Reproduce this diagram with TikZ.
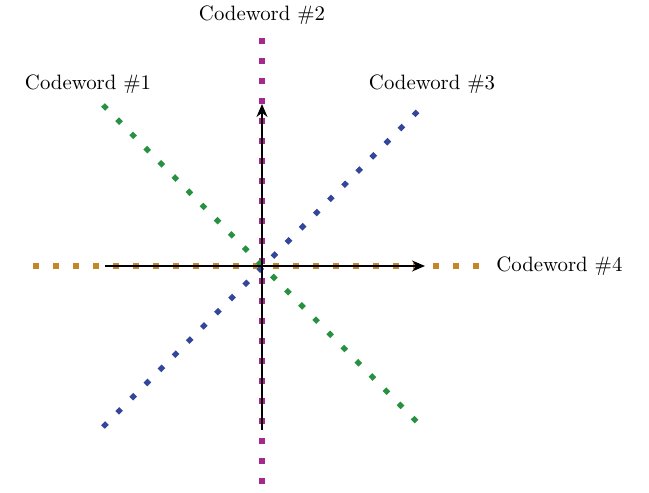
\documentclass[tikz,border=0pt]{standalone}
\usepackage{xcolor}
\usetikzlibrary{arrows.meta,positioning}

\definecolor{cwmag}{RGB}{165,40,140}
\definecolor{cwgreen}{RGB}{40,145,65}
\definecolor{cwblue}{RGB}{50,70,155}
\definecolor{cworange}{RGB}{195,135,40}

\begin{document}
\begin{tikzpicture}[
  x=0.5pt,y=-0.5pt,
  cw/.style={line width=2.6pt,dash pattern=on 2.8pt off 7.2pt},
  lbl/.style={inner sep=1pt,font=\fontsize{10.4}{12}\selectfont},
  arr/.style={-{Stealth[length=6.5pt,width=5.5pt]},line width=0.7pt}
]
  \useasboundingbox (0,0) rectangle (649,493);

  % end points of the codeword lines
  \coordinate (g1) at (103,105);
  \coordinate (g2) at (418,423);
  \coordinate (m1) at (262,38);
  \coordinate (m2) at (262,490);
  \coordinate (b1) at (103,427);
  \coordinate (b2) at (418,111);
  \coordinate (o1) at (33,266);
  \coordinate (o2) at (484,266);

  % axes
  \coordinate (xl) at (105,266);
  \coordinate (xr) at (425,266);
  \coordinate (yb) at (262,430);
  \coordinate (yt) at (262,104);

  \draw[cw,cworange] (o1) -- (o2);
  \draw[cw,cwmag]    (m1) -- (m2);
  \draw[cw,cwgreen]  (g1) -- (g2);
  \draw[cw,cwblue]   (b1) -- (b2);

  \draw[arr] (xl) -- (xr);
  \draw[arr] (yb) -- (yt);

  \node[lbl] (cw1) at (88,84)  {Codeword \#1};
  \node[lbl] (cw2) at (262,15) {Codeword \#2};
  \node[lbl] (cw3) at (432,84) {Codeword \#3};
  \node[lbl,right=10 of o2] (cw4) {Codeword \#4};
\end{tikzpicture}
\end{document}
